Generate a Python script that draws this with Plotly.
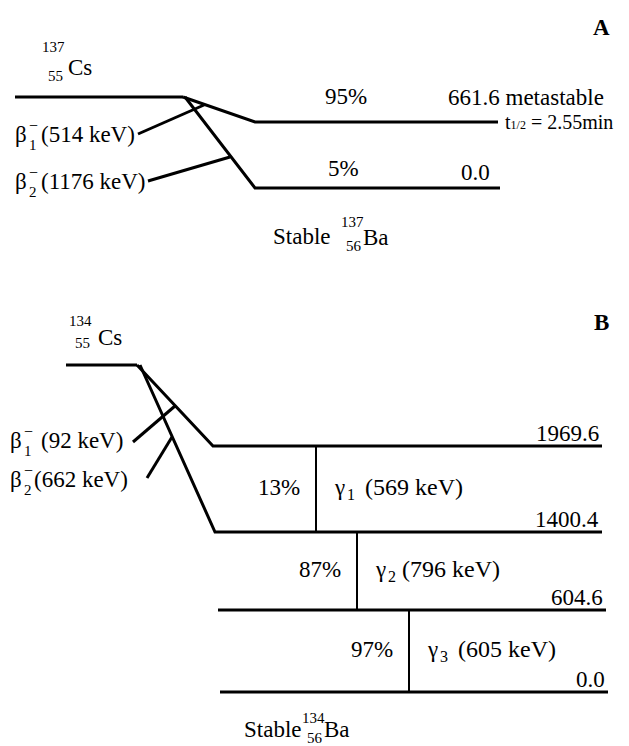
import plotly.graph_objects as go

# ---------------- data ----------------
# Panel A: 137Cs decay
a_parent = ("137", "55", "Cs")
a_daughter = ("137", "56", "Ba")
a_beta_names = ["1", "2"]
a_beta_kev = [514, 1176]
a_branch_pct = ["95%", "5%"]
a_level_energy = ["661.6", "0.0"]
a_level_note = "metastable"
a_halflife = "2.55min"

# Panel B: 134Cs decay
b_parent = ("134", "55", "Cs")
b_daughter = ("134", "56", "Ba")
b_beta_names = ["1", "2"]
b_beta_kev = [92, 662]
b_level_energy = ["1969.6", "1400.4", "604.6", "0.0"]
b_gamma_names = ["1", "2", "3"]
b_gamma_kev = [569, 796, 605]
b_gamma_pct = ["13%", "87%", "97%"]

# ---------------- layout geometry (pixels of the 629x746 page) ----------------
W, H = 629, 746
OFF = 8  # default page body margin; axes are set so data units equal page pixels
FONT = "Liberation Serif"
BIG, SMALL = 23, 14
LW = 3

geoA = dict(
    parent_y=97, parent_x=(15, 183),
    level_y=[122, 188], kink_x=255, level_end=[498, 500],
    branch_start=[183, 185],
    pointer=[((138, 134), (204, 105)), ((148, 181), (230, 157))],
    beta_label_y=[134, 181],
)
geoB = dict(
    parent_y=365, parent_x=(66, 137),
    level_y=[446, 532, 610, 692],
    level_start=[213, 215, 218, 220],
    level_end=[602, 602, 606, 608],
    branch_start=[137, 140],
    pointer=[((133, 442), (175, 406)), ((147, 478), (172, 437))],
    beta_label_y=[440, 479],
    gamma_x=[316, 357, 409],
)

fig = go.Figure()


def line(xs, ys, width=LW):
    fig.add_trace(go.Scatter(x=xs, y=ys, mode="lines",
                             line=dict(color="black", width=width),
                             hoverinfo="skip", showlegend=False))


annots = []


def text(x, y, s, size=BIG, xa="left"):
    annots.append(dict(x=x, y=y, text=s, showarrow=False, xanchor=xa,
                       yanchor="middle", xref="x", yref="y",
                       font=dict(family=FONT, size=size, color="black")))


def nuclide(x_mass, y_mass, y_z, x_sym, y_sym, nuc):
    mass, z, sym = nuc
    text(x_mass, y_mass, mass, SMALL + 1, "center")
    text(x_mass + 2, y_z, z, SMALL + 1, "center")
    text(x_sym, y_sym, sym, BIG)


def beta_label(x, y, name, kev, gap):
    text(x, y, "β", BIG)
    text(x + 14, y - 9, "−", SMALL + 2)
    text(x + 14, y + 11, name, SMALL + 1)
    text(x + 14 + gap, y, f"({kev} keV)", BIG)


# ---------- Panel A ----------
text(601, 27, "<b>A</b>", BIG, "center")
nuclide(53, 47, 76, 66, 67, a_parent)
line(list(geoA["parent_x"]), [geoA["parent_y"]] * 2)
for i in range(len(a_level_energy)):
    y = geoA["level_y"][i]
    line([geoA["branch_start"][i], geoA["kink_x"], geoA["level_end"][i]],
         [geoA["parent_y"], y, y])
    (x0, y0), (x1, y1) = geoA["pointer"][i]
    line([x0, x1], [y0, y1])
    beta_label(13, geoA["beta_label_y"][i], a_beta_names[i], a_beta_kev[i], 12)

text(346, 96, a_branch_pct[0], BIG, "center")
text(343, 168, a_branch_pct[1], BIG, "center")
text(446, 97, f"{a_level_energy[0]} {a_level_note}", BIG)
text(503, 122, f"t<span style='font-size:12px'>1/2</span> = {a_halflife}", 20, "left")
text(492, 172, a_level_energy[1], BIG, "right")

text(271, 236, "Stable", BIG)
nuclide(352, 222, 246, 361, 237, a_daughter)

# ---------- Panel B ----------
text(601, 322, "<b>B</b>", BIG, "center")
nuclide(80, 321, 343, 96, 337, b_parent)
line(list(geoB["parent_x"]), [geoB["parent_y"]] * 2)
for i, e in enumerate(b_level_energy):
    y = geoB["level_y"][i]
    if i < len(b_beta_kev):
        line([geoB["branch_start"][i], geoB["level_start"][i], geoB["level_end"][i]],
             [geoB["parent_y"], y, y])
    else:
        line([geoB["level_start"][i], geoB["level_end"][i]], [y, y])
    text(geoB["level_end"][i] - 1, y - 13, e, BIG, "right")

for i in range(len(b_beta_kev)):
    (x0, y0), (x1, y1) = geoB["pointer"][i]
    line([x0, x1], [y0, y1])
    beta_label(8, geoB["beta_label_y"][i], b_beta_names[i], b_beta_kev[i],
               17 if i == 0 else 10)

for i in range(len(b_gamma_kev)):
    gx = geoB["gamma_x"][i]
    ytop, ybot = geoB["level_y"][i], geoB["level_y"][i + 1]
    line([gx, gx], [ytop, ybot], width=2)
    ymid = (ytop + ybot) / 2 - 2
    text(gx - 14, ymid, b_gamma_pct[i], BIG, "right")
    gap = 31 if i != 1 else 27
    text(gx + 16, ymid, "γ", BIG)
    text(gx + 29, ymid + 7, b_gamma_names[i], 16)
    text(gx + 16 + gap, ymid, f"({b_gamma_kev[i]} keV)", BIG + 1)

text(242, 729, "Stable", BIG)
nuclide(313, 718, 738, 322, 729, b_daughter)

fig.update_layout(
    width=W - OFF, height=H - OFF,
    margin=dict(l=0, r=0, t=0, b=0),
    paper_bgcolor="white", plot_bgcolor="white",
    xaxis=dict(range=[OFF, W], visible=False, fixedrange=True),
    yaxis=dict(range=[H, OFF], visible=False, fixedrange=True),
    annotations=annots,
    showlegend=False,
)

fig.write_html("out.html")
